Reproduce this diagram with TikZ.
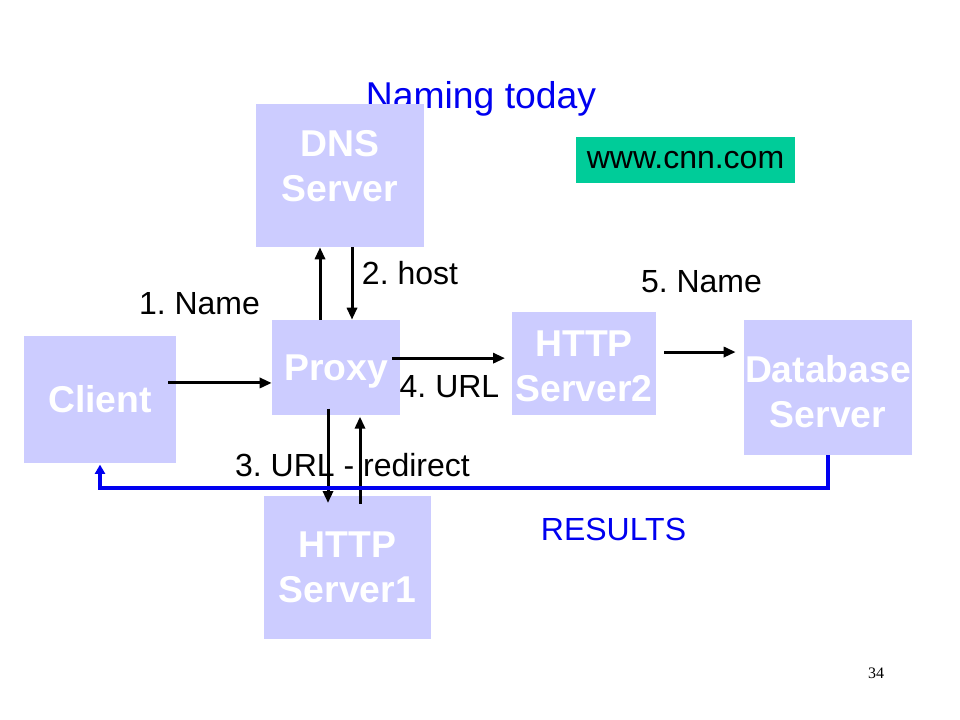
\documentclass[tikz,border=0pt]{standalone}
\usepackage{fontspec}
\setmainfont{Liberation Sans}
\newfontfamily\numfont{Liberation Serif}
\usepackage{xcolor}
\usetikzlibrary{arrows.meta, positioning, calc}
\frenchspacing
\definecolor{boxblue}{HTML}{CCCCFF}
\definecolor{webgreen}{HTML}{00CC99}
\definecolor{slideblue}{HTML}{0000F0}
\tikzstyle{boxtext}=[text=white, inner sep=0pt, align=center,
  font=\fontsize{28}{33.6}\selectfont\bfseries]
\tikzstyle{box}=[boxtext, fill=boxblue]
\tikzstyle{lbl}=[inner sep=0pt, font=\fontsize{24}{28}\selectfont]
\tikzstyle{arr}=[line width=2.25pt, -{Triangle[length=9pt,width=7.5pt]}]
\tikzstyle{res}=[line width=3pt, draw=slideblue, -{Triangle[length=7pt,width=7.5pt]}]

\begin{document}
\begin{tikzpicture}[x=0.75pt, y=-0.75pt]
            \useasboundingbox (0,0) rectangle (960,720);
            \node[lbl, text=slideblue, text depth=0pt, font=\fontsize{28}{33.6}\selectfont] (title) at (481,95) {Naming today};

            \node[box, minimum width=126pt, minimum height=107.25pt,
                  label={[boxtext, yshift=7.1pt]center:{DNS\\Server}}]   (dns)    at (340,175.5) {};
            \node[box, minimum width=114pt, minimum height=95.25pt]    (client) at (100,399.5) {Client};
            \node[box, minimum width=96pt, minimum height=71.25pt, text depth=0pt] (proxy) at (336,367.5) {Proxy};
            \node[box, minimum width=108pt, minimum height=77.25pt,
                  label={[boxtext, yshift=-1.9pt]center:{HTTP\\Server2}}] (srvtwo) at (584,363.5) {};
            \node[box, minimum width=126pt, minimum height=101.25pt,
                  label={[boxtext, yshift=-3.4pt]center:{Database\\Server}}] (db) at (828,387.5) {};
            \node[box, minimum width=125.25pt, minimum height=107.25pt] (srvone) at (347.5,567.5) {HTTP\\Server1};
            \node[lbl, fill=webgreen, minimum width=164.25pt, minimum height=34.5pt] (web) at (685.5,160) {www.cnn.com};

            % requests
            \draw[arr] ([xshift=-6pt,yshift=12.4pt]client.east) coordinate (n1) -- (proxy.west |- n1);
            \draw[arr] ([xshift=-12pt]proxy.north) -- ([xshift=-12pt]proxy.north |- dns.south);
            \draw[arr] ([xshift=12pt]proxy.north |- dns.south) -- ([xshift=12pt]proxy.north);
            \draw[arr] ([xshift=-6pt,yshift=7pt]proxy.east) coordinate (n4) -- ([xshift=-5pt]srvtwo.west |- n4);
            \draw[arr] ([xshift=6pt,yshift=8.6pt]srvtwo.east) coordinate (n5) -- ([xshift=-6pt]db.west |- n5);
            \draw[arr] ([xshift=-6pt,yshift=5pt]proxy.south) -- ([xshift=-6pt,yshift=-5.5pt]proxy.south |- srvone.north);
            \draw[arr] ([xshift=18pt,yshift=-6pt]proxy.south |- srvone.north) -- ([xshift=18pt,yshift=-1pt]proxy.south);
            % answer
            \draw[res] (db.south) -- ++(0,33) -| ([yshift=-1pt]client.south);

            \node[lbl] (host)  at (410,273)   {2. host};
            \node[lbl] (name)  at (199.5,304) {1. Name};
            \node[lbl] (dbname) at (701.5,282) {5. Name};
            \node[lbl] (url)   at (449.5,387) {4. URL};
            \node[lbl] (redir) at (352.5,465) {3. URL - redirect};
            \node[lbl, text=slideblue] (results) at (613.5,529) {RESULTS};
            \node[inner sep=0pt, font=\numfont\fontsize{12}{14}\selectfont] (page) at (876,673) {34};
          \end{tikzpicture}
\end{document}
